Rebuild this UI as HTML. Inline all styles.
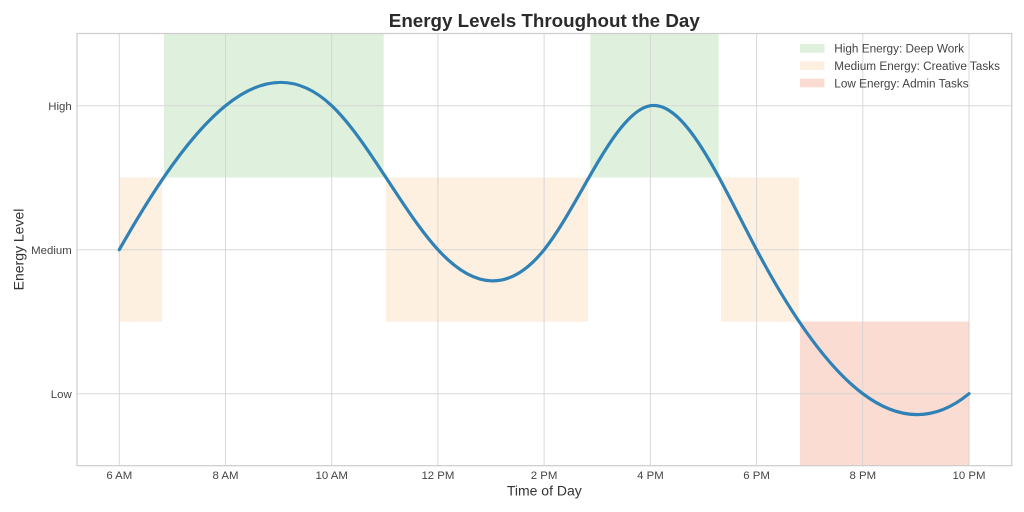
<!DOCTYPE html>
<html><head><meta charset="utf-8"><style>
html,body{margin:0;padding:0;background:#fff;}
svg{display:block;}
text{font-family:"Liberation Sans",Arial,sans-serif;}
</style></head><body>
<svg width="1024" height="512" viewBox="0 0 1024 512" xmlns="http://www.w3.org/2000/svg">
<rect x="0" y="0" width="1024" height="512" fill="#fff"/>
<!-- bands -->
<g>
<rect x="164" y="33.5" width="219.7" height="144" fill="#dff1dd"/>
<rect x="590.3" y="33.5" width="128.4" height="144" fill="#dff1dd"/>
<rect x="119.3" y="177.5" width="42.7" height="144.2" fill="#fdf0e1"/>
<rect x="386" y="177.5" width="202" height="144.2" fill="#fdf0e1"/>
<rect x="721" y="177.5" width="77.7" height="144.2" fill="#fdf0e1"/>
<rect x="800" y="321.5" width="169.3" height="144.2" fill="#fadcd3"/>
</g>
<!-- grid -->
<g stroke="#d4d4d4" stroke-width="1" opacity="0.9">
<line x1="119.3" y1="33.5" x2="119.3" y2="465.7"/>
<line x1="225.5" y1="33.5" x2="225.5" y2="465.7"/>
<line x1="331.7" y1="33.5" x2="331.7" y2="465.7"/>
<line x1="437.9" y1="33.5" x2="437.9" y2="465.7"/>
<line x1="544.1" y1="33.5" x2="544.1" y2="465.7"/>
<line x1="650.4" y1="33.5" x2="650.4" y2="465.7"/>
<line x1="756.6" y1="33.5" x2="756.6" y2="465.7"/>
<line x1="862.8" y1="33.5" x2="862.8" y2="465.7"/>
<line x1="969" y1="33.5" x2="969" y2="465.7"/>
<line x1="77" y1="105.7" x2="1011.7" y2="105.7"/>
<line x1="77" y1="249.7" x2="1011.7" y2="249.7"/>
<line x1="77" y1="393.7" x2="1011.7" y2="393.7"/>
</g>
<!-- frame -->
<rect x="77" y="33.5" width="934.7" height="432.2" fill="none" stroke="#cccccc" stroke-width="1.2"/>
<!-- curve -->
<path d="M119.3,249.7 C154.70,187.22 190.11,134.46 225.51,105.7 C260.92,76.94 296.32,72.18 331.72,105.7 C367.13,139.22 402.53,211.01 437.94,249.7 C473.34,288.39 508.75,293.97 544.15,249.7 C579.55,205.43 614.96,111.32 650.36,105.7 C685.77,100.08 721.17,182.95 756.57,249.7 C791.98,316.45 827.38,367.07 862.79,393.7 C898.19,420.33 933.60,422.95 969.0,393.7" fill="none" stroke="#2f81b6" stroke-width="3.2" stroke-linecap="round" stroke-linejoin="round"/>
<!-- title -->
<text x="544.3" y="27" text-anchor="middle" font-size="18.8" font-weight="bold" fill="#2b2b2b">Energy Levels Throughout the Day</text>
<!-- x ticks -->
<g font-size="11.4" fill="#444" text-anchor="middle">
<text x="119.3" y="479">6 AM</text>
<text x="225.5" y="479">8 AM</text>
<text x="331.7" y="479">10 AM</text>
<text x="437.9" y="479">12 PM</text>
<text x="544.1" y="479">2 PM</text>
<text x="650.4" y="479">4 PM</text>
<text x="756.6" y="479">6 PM</text>
<text x="862.8" y="479">8 PM</text>
<text x="969" y="479">10 PM</text>
</g>
<!-- y ticks -->
<g font-size="11.4" fill="#444" text-anchor="end">
<text x="71.7" y="109.8">High</text>
<text x="71.7" y="253.8">Medium</text>
<text x="71.7" y="397.8">Low</text>
</g>
<!-- axis labels -->
<text x="544.3" y="495.5" text-anchor="middle" font-size="14" fill="#333">Time of Day</text>
<text transform="translate(23.5,249.5) rotate(-90)" text-anchor="middle" font-size="14" fill="#333">Energy Level</text>
<!-- legend -->
<g>
<rect x="800" y="44" width="24.5" height="8.7" fill="#dff1dd"/>
<rect x="800" y="61.3" width="24.5" height="8.7" fill="#fdf0e1"/>
<rect x="800" y="78.6" width="24.5" height="8.7" fill="#fadcd3"/>
<g font-size="11.75" fill="#444">
<text x="834.3" y="52.7">High Energy: Deep Work</text>
<text x="834.3" y="70">Medium Energy: Creative Tasks</text>
<text x="834.3" y="87.3">Low Energy: Admin Tasks</text>
</g>
</g>
</svg>
</body></html>
